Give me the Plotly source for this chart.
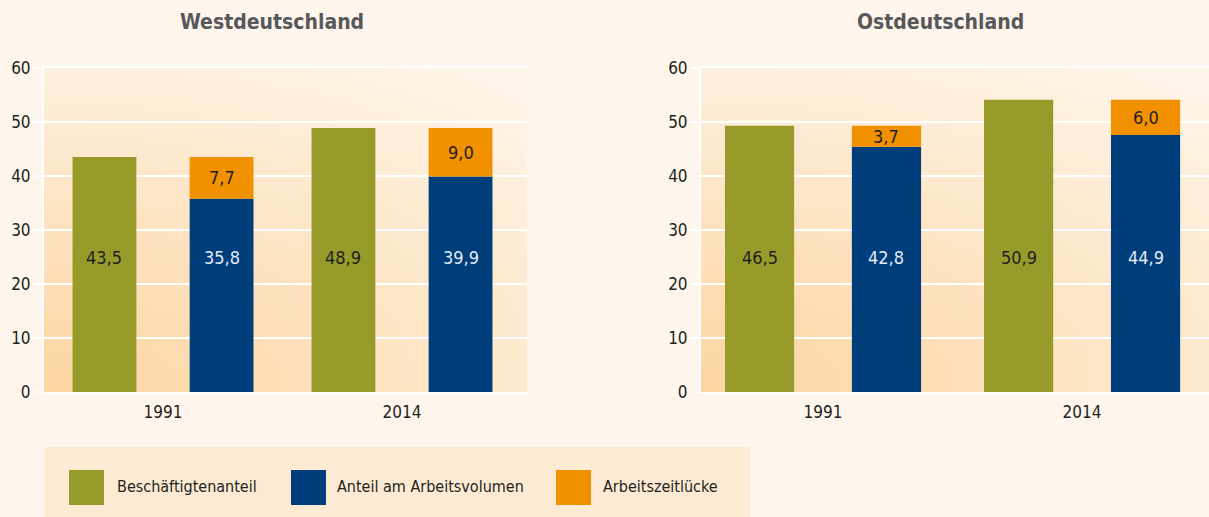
import base64
import struct
import zlib

import plotly.graph_objects as go

# ---------------- data ----------------
jahre = ["1991", "2014"]

# Westdeutschland (Anteil in %)
west_beschaeftigte = [43.5, 48.9]
west_arbeitsvolumen = [35.8, 39.9]
west_luecke = [7.7, 9.0]

# Ostdeutschland: bar heights as drawn in the original picture
ost_beschaeftigte = [49.3, 54.1]
ost_arbeitsvolumen = [45.4, 47.6]
ost_luecke = [3.9, 6.5]
# Ostdeutschland: values printed on the bars
ost_beschaeftigte_label = ["46,5", "50,9"]
ost_arbeitsvolumen_label = ["42,8", "44,9"]
ost_luecke_label = ["3,7", "6,0"]

serien = ["Beschäftigtenanteil", "Anteil am Arbeitsvolumen", "Arbeitszeitlücke"]
titel = ["Westdeutschland", "Ostdeutschland"]
y_ticks = [0, 10, 20, 30, 40, 50, 60]

# ---------------- style ----------------
GREEN = "#969B2A"
BLUE = "#003D7B"
ORANGE = "#F29100"
PAPER = "#FEF5EC"
LEGEND_BG = "#FDEAD3"
FONT = "DejaVu Sans Condensed, Liberation Sans Narrow, sans-serif"
TEXT = "#231F20"
BARGAP = 0.02
BARGROUPGAP = 0.455
LABEL_Y = 25  # height at which the main labels sit

W, H = 1209, 517


def fmt(v):
    return f"{v:.1f}".replace(".", ",")


def gradient_png(w=80, h=60):
    dark = (252, 213, 162)
    light = (254, 244, 231)
    rows = []
    for j in range(h):
        v = j / (h - 1)
        row = bytearray([0])
        for i in range(w):
            u = i / (w - 1)
            d = 1 - ((u * 0.65) ** 2 + ((1 - v) * 0.85) ** 2) ** 0.5
            d = max(0.0, min(1.0, d))
            for k in range(3):
                row.append(int(round(light[k] + (dark[k] - light[k]) * d)))
        rows.append(bytes(row))
    raw = b"".join(rows)

    def chunk(tag, data):
        c = struct.pack(">I", len(data)) + tag + data
        return c + struct.pack(">I", zlib.crc32(tag + data) & 0xFFFFFFFF)

    png = b"\x89PNG\r\n\x1a\n"
    png += chunk(b"IHDR", struct.pack(">IIBBBBB", w, h, 8, 2, 0, 0, 0))
    png += chunk(b"IDAT", zlib.compress(raw, 9))
    png += chunk(b"IEND", b"")
    return "data:image/png;base64," + base64.b64encode(png).decode()


GRAD = gradient_png()

# plot areas in pixels
west_px = (44, 527)
ost_px = (701, 1209)
y_px = (68, 392)  # top, bottom

dom_y = [(H - y_px[1]) / H, (H - y_px[0]) / H]
dom_west = [west_px[0] / W, west_px[1] / W]
dom_ost = [ost_px[0] / W, min(1.0, ost_px[1] / W)]

fig = go.Figure()

panels = [
    ("x", "y", west_beschaeftigte, west_arbeitsvolumen, west_luecke,
     [fmt(v) for v in west_beschaeftigte], [fmt(v) for v in west_arbeitsvolumen],
     [fmt(v) for v in west_luecke]),
    ("x2", "y2", ost_beschaeftigte, ost_arbeitsvolumen, ost_luecke,
     ost_beschaeftigte_label, ost_arbeitsvolumen_label, ost_luecke_label),
]

annotations = []
for xa, ya, g, b, o, gl, bl, ol in panels:
    fig.add_trace(go.Bar(x=jahre, y=g, name=serien[0], marker_color=GREEN,
                         marker_line_width=0, offsetgroup="a", xaxis=xa, yaxis=ya,
                         showlegend=False))
    fig.add_trace(go.Bar(x=jahre, y=b, name=serien[1], marker_color=BLUE,
                         marker_line_width=0, offsetgroup="b", xaxis=xa, yaxis=ya,
                         showlegend=False))
    fig.add_trace(go.Bar(x=jahre, y=o, base=b, name=serien[2], marker_color=ORANGE,
                         marker_line_width=0, offsetgroup="b", xaxis=xa, yaxis=ya,
                         showlegend=False))
    off = (1 - BARGAP) / 4
    for i in range(len(jahre)):
        annotations.append(dict(x=i - off, y=LABEL_Y, xref=xa, yref=ya, text=gl[i],
                                showarrow=False, font=dict(size=18, color=TEXT, family=FONT)))
        annotations.append(dict(x=i + off, y=LABEL_Y, xref=xa, yref=ya, text=bl[i],
                                showarrow=False, font=dict(size=18, color="#E3E9F1", family=FONT)))
        annotations.append(dict(x=i + off, y=b[i] + o[i] / 2, xref=xa, yref=ya, text=ol[i],
                                showarrow=False, font=dict(size=18, color=TEXT, family=FONT)))

# titles
for cx, t in zip([272, 940], titel):
    annotations.append(dict(x=cx / W, y=1 - 22 / H, xref="paper", yref="paper", text=f"<b>{t}</b>",
                            showarrow=False, xanchor="center", yanchor="middle",
                            font=dict(size=21, color="#58585A", family=FONT)))

# legend (drawn manually with large swatches)
shapes = [dict(type="rect", xref="paper", yref="paper", x0=45 / W, x1=750 / W,
               y0=0, y1=1 - 447 / H, fillcolor=LEGEND_BG, line_width=0, layer="below")]
legend_items = [(69, 115, GREEN, serien[0]), (291, 335, BLUE, serien[1]), (556, 601, ORANGE, serien[2])]
for sx, tx, col, name in legend_items:
    shapes.append(dict(type="rect", xref="paper", yref="paper", x0=sx / W, x1=(sx + 35) / W,
                       y0=1 - 505 / H, y1=1 - 470 / H, fillcolor=col, line_width=0))
    annotations.append(dict(x=tx / W, y=1 - 486 / H, xref="paper", yref="paper", text=name,
                            showarrow=False, xanchor="left", yanchor="middle",
                            font=dict(size=16, color=TEXT, family=FONT)))

images = []
for d in (dom_west, dom_ost):
    images.append(dict(source=GRAD, xref="paper", yref="paper", x=d[0], y=dom_y[1],
                       sizex=d[1] - d[0], sizey=dom_y[1] - dom_y[0], sizing="stretch",
                       xanchor="left", yanchor="top", layer="below"))

xaxis_common = dict(type="category", showgrid=False, zeroline=False, showline=True,
                    linecolor="white", linewidth=2, mirror=True, ticks="", automargin=False,
                    ticklabelstandoff=4,
                    tickfont=dict(size=17, color=TEXT, family=FONT), fixedrange=True)
yaxis_common = dict(range=[0, 60], tickvals=y_ticks, showgrid=True, gridcolor="white",
                    gridwidth=2, zeroline=False, showline=True, linecolor="white",
                    linewidth=2, ticks="outside", ticklen=8, tickcolor="white", tickwidth=2,
                    automargin=False,
                    tickfont=dict(size=17, color=TEXT, family=FONT), fixedrange=True)

fig.update_layout(
    width=W, height=H, autosize=False,
    margin=dict(l=0, r=0, t=0, b=0, pad=0, autoexpand=False),
    paper_bgcolor=PAPER,
    plot_bgcolor="rgba(0,0,0,0)",
    barmode="group",
    bargap=BARGAP,
    bargroupgap=BARGROUPGAP,
    showlegend=False,
    xaxis=dict(domain=dom_west, anchor="y", range=[-0.498, 1.523], **xaxis_common),
    yaxis=dict(domain=dom_y, anchor="x", **yaxis_common),
    xaxis2=dict(domain=dom_ost, anchor="y2", range=[-0.471, 1.490], **xaxis_common),
    yaxis2=dict(domain=dom_y, anchor="x2", **yaxis_common),
    annotations=annotations,
    shapes=shapes,
    images=images,
)

fig.write_html(
    "out.html",
    config={"displayModeBar": False, "responsive": False},
    post_script="document.body.style.margin='0';document.body.style.padding='0';"
                "document.body.style.overflow='hidden';"
                "document.documentElement.style.overflow='hidden';",
)
